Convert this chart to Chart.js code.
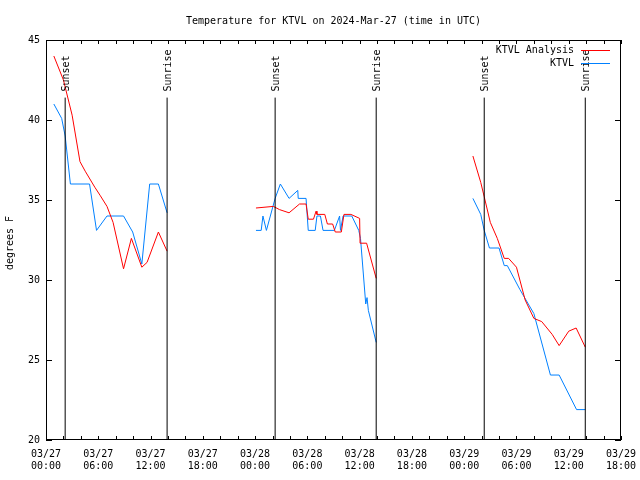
<!DOCTYPE html>
<html>
<head>
<meta charset="utf-8">
<script src="https://cdn.jsdelivr.net/npm/chart.js@4/dist/chart.umd.min.js"></script>
<style>
  html, body { margin: 0; padding: 0; background: #fff; }
  canvas { display: block; }
</style>
</head>
<body>
<canvas id="tempChart" width="640" height="480"></canvas>
<script>
// hours since 2024-03-27 00:00 UTC, one sub-array per night
const analysisHours = [
    [0.9, 2.0, 3.0, 3.9, 4.5, 5.6, 6.2, 7.0, 7.7, 8.9, 9.8, 11.0, 11.6, 12.9, 13.9],
    [24.1, 26.1, 26.8, 27.9, 29.1, 29.85, 30.1, 30.7, 31.0, 31.1, 32.0, 32.3, 32.9, 33.2, 33.9, 34.2, 35.0, 36.0, 36.05, 36.8, 37.9],
    [49.0, 49.9, 50.3, 51.0, 51.8, 52.6, 53.1, 54.0, 55.0, 56.0, 56.9, 58.1, 58.9, 60.0, 60.85, 61.9]
];
const analysisTemps = [
    [44.0, 42.5, 40.3, 37.4, 36.8, 35.8, 35.3, 34.6, 33.6, 30.7, 32.6, 30.8, 31.1, 33.0, 31.8],
    [34.5, 34.6, 34.4, 34.2, 34.75, 34.75, 33.8, 33.8, 34.3, 34.1, 34.1, 33.5, 33.5, 33.0, 33.0, 34.1, 34.1, 33.85, 32.3, 32.3, 30.1],
    [37.75, 36.1, 35.2, 33.6, 32.6, 31.35, 31.35, 30.8, 28.75, 27.6, 27.4, 26.6, 25.9, 26.8, 27.0, 25.8]
];
const obsHours = [
    [0.9, 1.8, 2.2, 2.4, 2.8, 5.0, 5.8, 7.0, 8.9, 9.95, 11.0, 11.9, 12.9, 13.9],
    [24.1, 24.7, 24.9, 25.3, 26.3, 26.9, 27.9, 28.9, 28.95, 29.85, 30.1, 30.9, 31.1, 31.5, 31.8, 33.1, 33.7, 33.8, 34.1, 35.1, 35.9, 36.1, 36.7, 36.85, 37.0, 37.9],
    [49.0, 49.9, 50.3, 50.9, 52.0, 52.6, 52.95, 54.4, 56.0, 57.9, 58.9, 60.9, 61.9]
];
const obsTemps = [
    [41.0, 40.1, 39.0, 38.0, 36.0, 36.0, 33.1, 34.0, 34.0, 33.0, 31.0, 36.0, 36.0, 34.2],
    [33.1, 33.1, 34.0, 33.1, 35.1, 36.0, 35.1, 35.6, 35.1, 35.1, 33.1, 33.1, 34.0, 34.0, 33.1, 33.1, 34.0, 33.1, 34.0, 34.0, 33.1, 32.6, 28.5, 28.9, 28.1, 26.1],
    [35.1, 34.1, 33.1, 32.0, 32.0, 30.9, 30.9, 29.4, 27.9, 24.06, 24.06, 21.9, 21.9]
];
const sunsetHours = [2.2, 26.3, 50.3];
const sunriseHours = [13.9, 37.9, 61.9];
const markerTopTemp = 41.4;

const tickDays = ['03/27', '03/27', '03/27', '03/27', '03/28', '03/28', '03/28', '03/28', '03/29', '03/29', '03/29', '03/29'];
const tickTimes = ['00:00', '06:00', '12:00', '18:00', '00:00', '06:00', '12:00', '18:00', '00:00', '06:00', '12:00', '18:00'];

const FONT = '"DejaVu Sans Mono", "Liberation Mono", monospace';
const FONT_SIZE = 10;

// join the night segments with a null point so the line breaks
function toPoints(hourSegs, tempSegs) {
    const pts = [];
    hourSegs.forEach((hours, i) => {
        if (i > 0) pts.push({ x: (hourSegs[i - 1][hourSegs[i - 1].length - 1] + hours[0]) / 2, y: null });
        hours.forEach((h, j) => pts.push({ x: h, y: tempSegs[i][j] }));
    });
    return pts;
}

function markerPoints(hours) {
    const pts = [];
    hours.forEach((h, i) => {
        if (i > 0) pts.push({ x: h - 1, y: null });
        pts.push({ x: h, y: 20 });
        pts.push({ x: h, y: markerTopTemp });
    });
    return pts;
}

const sunMarkers = [
    { text: 'Sunset', hours: sunsetHours },
    { text: 'Sunrise', hours: sunriseHours }
];

const framePlugin = {
    id: 'gnuplotFrame',
    afterDatasetsDraw(chart) {
        const ctx = chart.ctx;
        const a = chart.chartArea;
        const xs = chart.scales.x;
        const ys = chart.scales.y;
        ctx.save();
        ctx.strokeStyle = '#000';
        ctx.lineWidth = 1;

        // frame
        ctx.strokeRect(Math.round(a.left) + 0.5, Math.round(a.top) + 0.5,
            Math.round(a.right - a.left) - 1, Math.round(a.bottom - a.top) - 1);

        ctx.beginPath();
        // x ticks every 2 hours, inward on bottom and top
        for (let h = xs.min; h <= xs.max; h += 2) {
            const px = Math.round(xs.getPixelForValue(h)) + 0.5;
            ctx.moveTo(px, a.bottom);
            ctx.lineTo(px, a.bottom - 4);
            ctx.moveTo(px, a.top);
            ctx.lineTo(px, a.top + 4);
        }
        // y ticks, inward on left and right
        ys.ticks.forEach(t => {
            const py = Math.round(ys.getPixelForValue(t.value)) + 0.5;
            ctx.moveTo(a.left, py);
            ctx.lineTo(a.left + 6, py);
            ctx.moveTo(a.right, py);
            ctx.lineTo(a.right - 6, py);
        });
        ctx.stroke();

        ctx.fillStyle = '#000';
        ctx.font = FONT_SIZE + 'px ' + FONT;

        // sunset / sunrise labels
        sunMarkers.forEach(m => {
            m.hours.forEach(h => {
                const px = xs.getPixelForValue(h);
                const py = ys.getPixelForValue(markerTopTemp) - 6;
                ctx.save();
                ctx.translate(px + 1.5, py);
                ctx.rotate(-Math.PI / 2);
                ctx.textAlign = 'left';
                ctx.textBaseline = 'middle';
                ctx.fillText(m.text, 0, 0);
                ctx.restore();
            });
        });

        // title
        ctx.textAlign = 'center';
        ctx.textBaseline = 'alphabetic';
        ctx.fillText('Temperature for KTVL on 2024-Mar-27 (time in UTC)', (a.left + a.right) / 2, 24);

        // y axis label
        ctx.save();
        ctx.translate(10, 243);
        ctx.rotate(-Math.PI / 2);
        ctx.textAlign = 'center';
        ctx.textBaseline = 'middle';
        ctx.fillText('degrees F', 0, 0);
        ctx.restore();

        // legend, gnuplot style: text then line sample
        const legendItems = chart.data.datasets.filter(d => d.inLegend);
        legendItems.forEach((d, i) => {
            const y = 50 + i * 13;
            ctx.textAlign = 'right';
            ctx.textBaseline = 'middle';
            ctx.fillStyle = '#000';
            ctx.fillText(d.label, 574, y);
            ctx.strokeStyle = d.borderColor;
            ctx.lineWidth = 1;
            ctx.beginPath();
            ctx.moveTo(581, y + 0.5);
            ctx.lineTo(610, y + 0.5);
            ctx.stroke();
        });
        ctx.restore();
    }
};

function createTemperatureChart() {
    const ctx = document.getElementById('tempChart').getContext('2d');
    new Chart(ctx, {
        type: 'line',
        data: {
            datasets: [
                {
                    label: 'Sun markers',
                    data: markerPoints(sunsetHours.concat(sunriseHours).sort((p, q) => p - q)),
                    borderColor: '#000',
                    borderWidth: 1,
                    inLegend: false
                },
                {
                    label: 'KTVL Analysis',
                    data: toPoints(analysisHours, analysisTemps),
                    borderColor: '#ff0000',
                    borderWidth: 1,
                    inLegend: true
                },
                {
                    label: 'KTVL',
                    data: toPoints(obsHours, obsTemps),
                    borderColor: '#0080ff',
                    borderWidth: 1,
                    inLegend: true
                }
            ]
        },
        options: {
            responsive: false,
            animation: false,
            devicePixelRatio: 1,
            spanGaps: false,
            layout: { padding: { top: 40, right: 19, left: 0, bottom: 0 } },
            elements: {
                point: { radius: 0 },
                line: { tension: 0 }
            },
            plugins: {
                legend: { display: false },
                title: { display: false },
                tooltip: { enabled: false }
            },
            scales: {
                x: {
                    type: 'linear',
                    min: 0,
                    max: 66,
                    border: { display: false },
                    grid: { display: false, drawTicks: false },
                    afterFit: scale => {
                        scale.height = 40;
                        scale.paddingLeft = 0;
                        scale.paddingRight = 0;
                    },
                    ticks: {
                        stepSize: 6,
                        autoSkip: false,
                        maxRotation: 0,
                        padding: 8,
                        color: '#000',
                        font: { family: FONT, size: FONT_SIZE },
                        callback: value => {
                            const i = Math.round(value / 6);
                            return [tickDays[i], tickTimes[i]];
                        }
                    }
                },
                y: {
                    min: 20,
                    max: 45,
                    border: { display: false },
                    grid: { display: false, drawTicks: false },
                    afterFit: scale => { scale.width = 46; },
                    ticks: {
                        stepSize: 5,
                        padding: 6,
                        color: '#000',
                        font: { family: FONT, size: FONT_SIZE }
                    }
                }
            }
        },
        plugins: [framePlugin]
    });
}

createTemperatureChart();
</script>
</body>
</html>
